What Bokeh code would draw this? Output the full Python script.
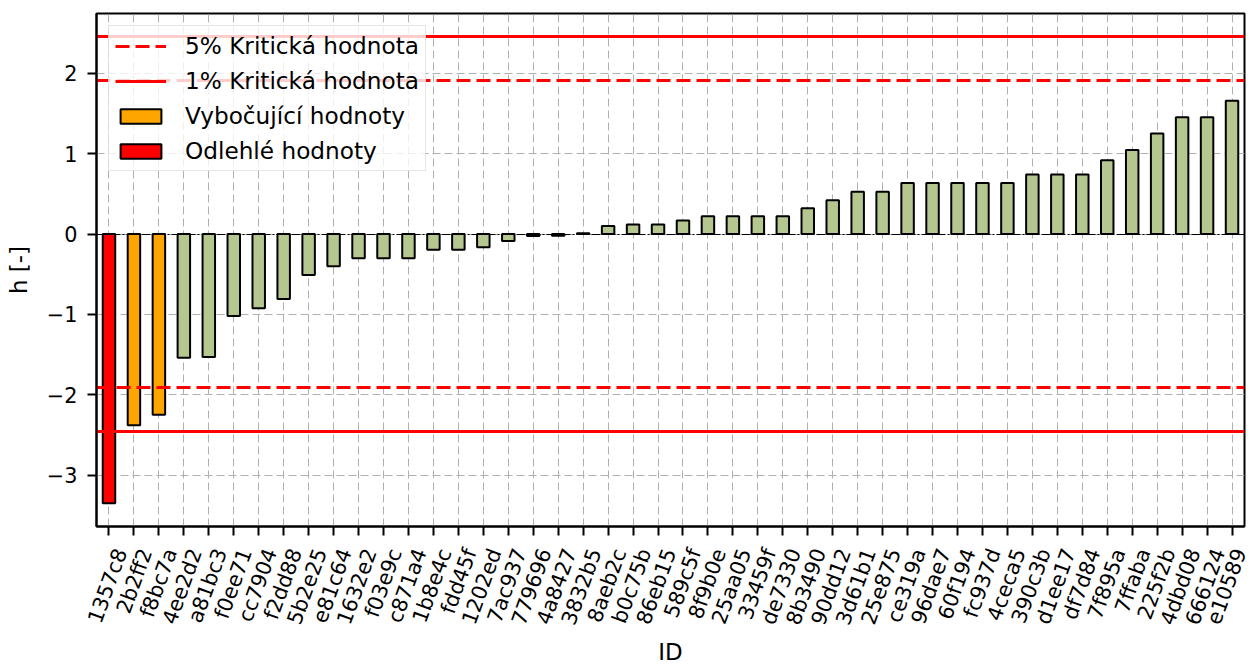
import math
from bokeh.plotting import figure
from bokeh.models import Range1d, FixedTicker, LinearAxis, Legend, LegendItem
from bokeh.embed import file_html
from bokeh.resources import INLINE

# ---------------- data ----------------
ids = ["1357c8", "2b2ff2", "f8bc7a", "4ee2d2", "a81bc3", "f0ee71", "cc7904", "f2dd88",
       "5b2e25", "e81c64", "1632e2", "f03e9c", "c871a4", "1b8e4c", "fdd45f", "1202ed",
       "7ac937", "779696", "4a8427", "3832b5", "8aeb2c", "b0c75b", "86eb15", "589c5f",
       "8f9b0e", "25aa05", "33459f", "de7330", "8b3490", "90dd12", "3d61b1", "25e875",
       "ce319a", "96dae7", "60f194", "fc937d", "4ceca5", "390c3b", "d1ee17", "df7d84",
       "7f895a", "7ffaba", "225f2b", "4dbd08", "666124", "e10589"]
h_values = [-3.35, -2.38, -2.25, -1.54, -1.53, -1.02, -0.925, -0.81,
            -0.51, -0.40, -0.30, -0.30, -0.30, -0.195, -0.195, -0.165,
            -0.087, -0.025, -0.02, 0.01, 0.10, 0.12, 0.12, 0.17,
            0.22, 0.22, 0.22, 0.22, 0.32, 0.42, 0.526, 0.526,
            0.634, 0.634, 0.634, 0.634, 0.634, 0.74, 0.74, 0.74,
            0.92, 1.045, 1.25, 1.455, 1.455, 1.66]
# category of each value: "odlehla" (outlier), "vybocujici" (deviating), "ok"
status = ["odlehla", "vybocujici", "vybocujici"] + ["ok"] * 43
crit_5 = [1.91, -1.91]
crit_1 = [2.455, -2.455]
zero_line = [0.0]
y_ticks = [-3, -2, -1, 0, 1, 2]
y_tick_labels = ["\u22123", "\u22122", "\u22121", "0", "1", "2"]

legend_5 = "5% Kritická hodnota"
legend_1 = "1% Kritická hodnota"
legend_vyb = "Vybočující hodnoty"
legend_odl = "Odlehlé hodnoty"

FONT = "DejaVu Sans"
GREEN = "#b5c78f"
ORANGE = "#ffa500"
RED = "#ff0000"
TICK_FS = "20.8px"
LABEL_FS = "22.9px"

n = len(ids)
idx = list(range(n))

p = figure(width=1251, height=668, output_backend="svg", toolbar_location=None,
           x_range=Range1d(-0.5, n - 0.5), y_range=Range1d(-3.64, 2.745),
           x_axis_location=None,
           min_border_left=96, min_border_top=13, min_border_right=7,
           min_border_bottom=141)

p.outline_line_color = "black"
p.outline_line_width = 2
p.background_fill_color = "white"

# grid
for g in (p.xgrid, p.ygrid):
    g.grid_line_color = "#b0b0b0"
    g.grid_line_dash = "8 4"
    g.grid_line_width = 1
p.xgrid.ticker = FixedTicker(ticks=idx)
p.ygrid.ticker = FixedTicker(ticks=y_ticks)

# y axis
ya = p.left[0]
ya.ticker = FixedTicker(ticks=y_ticks)
ya.major_label_overrides = {t: l for t, l in zip(y_ticks, y_tick_labels)}
ya.major_label_text_font = FONT
ya.major_label_text_font_size = TICK_FS
ya.major_label_text_color = "black"
ya.major_label_standoff = 10
ya.major_tick_out = 9
ya.major_tick_in = 0
ya.major_tick_line_width = 2
ya.minor_tick_line_color = None
ya.axis_line_width = 2
ya.axis_label = "h [-]"
ya.axis_label_text_font = FONT
ya.axis_label_text_font_size = LABEL_FS
ya.axis_label_text_font_style = "normal"
ya.axis_label_text_color = "black"
ya.axis_label_standoff = 12

# x axis on a shifted range so that the 70deg labels sit centred under
# their ticks (like matplotlib); tick marks are drawn as minor ticks at
# the unshifted bar positions.
shift = 0.48
p.extra_x_ranges = {"lbl": Range1d(-0.5 - shift, n - 0.5 - shift)}
la = LinearAxis(x_range_name="lbl",
                ticker=FixedTicker(ticks=idx, minor_ticks=[i - shift for i in idx]),
                major_label_overrides={i: s for i, s in zip(idx, ids)},
                major_label_orientation=70 * math.pi / 180)
la.axis_line_color = "black"
la.axis_line_width = 2
la.major_tick_line_color = None
la.major_tick_out = 9
la.major_tick_in = 0
la.minor_tick_line_color = "black"
la.minor_tick_line_width = 2
la.minor_tick_out = 9
la.minor_tick_in = 0
la.major_label_standoff = 14
la.major_label_text_font = FONT
la.major_label_text_font_size = TICK_FS
la.major_label_text_color = "black"
la.axis_label = "ID"
la.axis_label_text_font = FONT
la.axis_label_text_font_size = LABEL_FS
la.axis_label_text_font_style = "normal"
la.axis_label_text_color = "black"
la.axis_label_standoff = 4
p.add_layout(la, "below")

# zero line
p.hspan(y=zero_line, line_color="black", line_width=1, line_dash="9 2 2 2")

# bars
colors = {"odlehla": RED, "vybocujici": ORANGE, "ok": GREEN}
renderers = {}
for key in ["ok", "vybocujici", "odlehla"]:
    xs = [i for i, s in zip(idx, status) if s == key]
    ys = [v for v, s in zip(h_values, status) if s == key]
    renderers[key] = p.vbar(x=xs, top=ys, bottom=0, width=0.5, fill_color=colors[key],
                            line_color="black", line_width=2)

# critical lines
r5 = p.hspan(y=crit_5, line_color=RED, line_width=3, line_dash="14 6")
r1 = p.hspan(y=crit_1, line_color=RED, line_width=3)

legend = Legend(items=[LegendItem(label=legend_5, renderers=[r5]),
                       LegendItem(label=legend_1, renderers=[r1]),
                       LegendItem(label=legend_vyb, renderers=[renderers["vybocujici"]]),
                       LegendItem(label=legend_odl, renderers=[renderers["odlehla"]])],
                location="top_left")
legend.margin = 12
legend.padding = 6
legend.spacing = 8
legend.glyph_width = 51
legend.glyph_height = 18
legend.label_standoff = 19
legend.label_height = 27
legend.label_text_font = FONT
legend.label_text_font_size = "23.2px"
legend.label_text_color = "black"
legend.border_line_color = "#cccccc"
legend.border_line_width = 1.5
legend.background_fill_alpha = 0.8
p.add_layout(legend, "center")

open("out.html", "w").write(file_html(p, INLINE))
